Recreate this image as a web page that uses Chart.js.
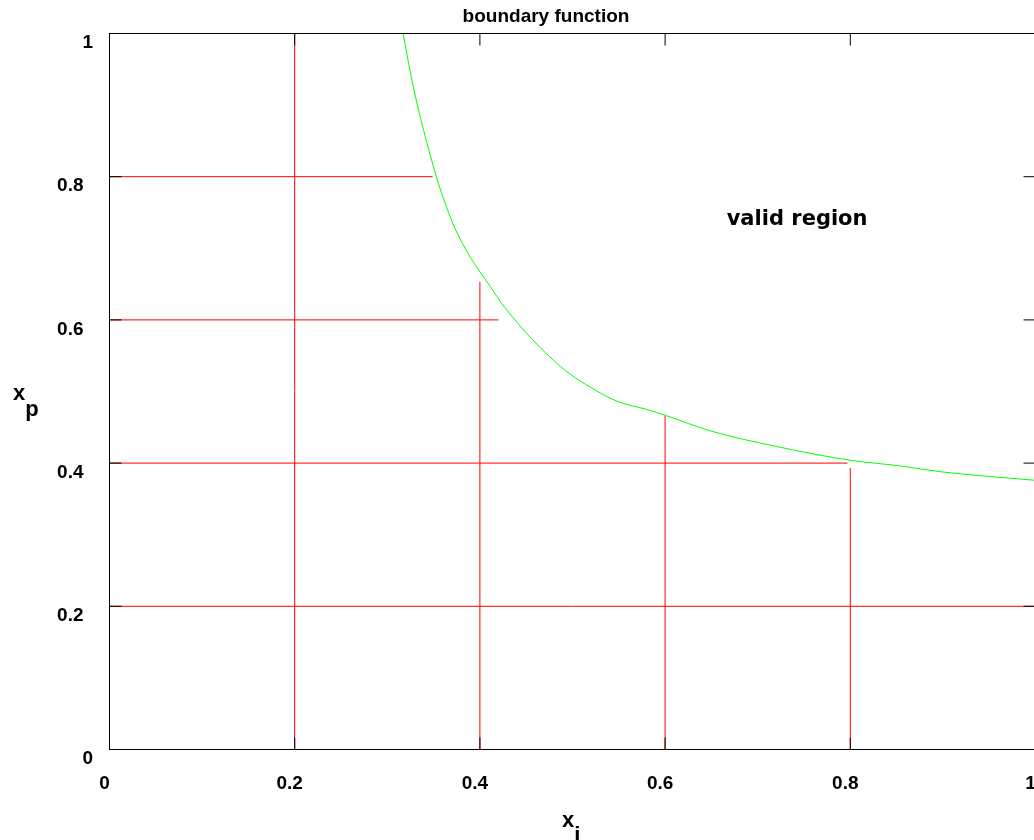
<!DOCTYPE html>
<html>
<head>
<meta charset="utf-8">
<script src="https://cdn.jsdelivr.net/npm/chart.js@4"></script>
<style>
html, body { margin: 0; padding: 0; overflow: hidden; background: #fff; }
</style>
</head>
<body>
<canvas id="chart" width="1040" height="840"></canvas>
<script>
// boundary curve
const boundaryX = [0.317, 0.328, 0.339, 0.353, 0.360, 0.373, 0.389, 0.411, 0.427, 0.487,
                   0.530, 0.551, 0.580, 0.602, 0.649, 0.721, 0.800, 0.854, 0.897, 0.944, 1.0];
const boundaryY = [1.0, 0.926, 0.866, 0.800, 0.772, 0.728, 0.689, 0.647, 0.617, 0.535,
                   0.498, 0.485, 0.475, 0.466, 0.445, 0.423, 0.404, 0.396, 0.388, 0.382, 0.376];

// red grid segments: vertical ones start at y=0, horizontal ones start at x=0
const vertX = [0, 0.2, 0.4, 0.6, 0.8];
const vertTop = [1, 1, 0.653, 0.466, 0.393];
const horizY = [0.2, 0.4, 0.6, 0.8];
const horizEnd = [1, 0.797, 0.42, 0.349];

const tickValues = [0, 0.2, 0.4, 0.6, 0.8, 1];
const regionLabel = { text: 'valid region', x: 0.6665, y: 0.733 };

const datasets = [];
vertX.forEach((v, i) => {
    datasets.push({
        data: [{x: v, y: 0}, {x: v, y: vertTop[i]}],
        borderColor: 'red', borderWidth: 1
    });
});
horizY.forEach((v, i) => {
    datasets.push({
        data: [{x: 0, y: v}, {x: horizEnd[i], y: v}],
        borderColor: 'red', borderWidth: 1
    });
});
datasets.push({
    data: boundaryX.map((v, i) => ({x: v, y: boundaryY[i]})),
    borderColor: '#00ff00', borderWidth: 1,
    cubicInterpolationMode: 'monotone'
});

function fmt(v) {
    if (v === 0 || v === 1) return String(v);
    return v.toFixed(1);
}

function noPad(s) {
    s.paddingLeft = 0; s.paddingRight = 0; s.paddingTop = 0; s.paddingBottom = 0;
}

const decor = {
    id: 'decor',
    afterDatasetsDraw(chart) {
        const ctx = chart.ctx;
        const a = chart.chartArea;
        const x = chart.scales.x, y = chart.scales.y;
        ctx.save();
        ctx.strokeStyle = '#000';
        ctx.lineWidth = 1;
        ctx.strokeRect(a.left, a.top, a.right - a.left, a.bottom - a.top);
        ctx.beginPath();
        tickValues.forEach(v => {
            const px = x.getPixelForValue(v), py = y.getPixelForValue(v);
            ctx.moveTo(px, a.bottom); ctx.lineTo(px, a.bottom - 12);
            ctx.moveTo(px, a.top); ctx.lineTo(px, a.top + 12);
            ctx.moveTo(a.left, py); ctx.lineTo(a.left + 12, py);
            ctx.moveTo(a.right, py); ctx.lineTo(a.right - 12, py);
        });
        ctx.stroke();

        ctx.fillStyle = '#000';
        ctx.textBaseline = 'alphabetic';
        ctx.font = 'bold 19px "Liberation Sans", Arial, sans-serif';
        ctx.textAlign = 'center';
        ctx.fillText('boundary function', 546, 21.7);

        ctx.textAlign = 'left';
        ctx.font = 'bold 21px "DejaVu Sans", sans-serif';
        ctx.fillText(regionLabel.text, x.getPixelForValue(regionLabel.x), y.getPixelForValue(regionLabel.y));

        // axis titles with subscripts
        ctx.font = 'bold 22px "Liberation Sans", Arial, sans-serif';
        let w = ctx.measureText('x').width;
        ctx.fillText('x', 562, 827);
        ctx.fillText('i', 562 + w, 842);
        ctx.fillText('x', 13, 400);
        ctx.fillText('p', 13 + w, 415.5);
        ctx.restore();
    }
};

new Chart(document.getElementById('chart'), {
    type: 'scatter',
    data: { datasets: datasets },
    options: {
        responsive: false,
        animation: false,
        showLine: true,
        elements: { point: { radius: 0 }, line: { tension: 0 } },
        layout: { padding: { top: 33.5, right: 4.5, left: 0, bottom: 0 } },
        plugins: { legend: { display: false }, tooltip: { enabled: false } },
        scales: {
            x: {
                type: 'linear', min: 0, max: 1,
                afterFit(s) { s.height = 90.5; noPad(s); },
                grid: { display: false, drawTicks: false },
                border: { display: false },
                ticks: {
                    stepSize: 0.2, autoSkip: false, padding: 23, labelOffset: -5,
                    color: '#000',
                    font: { family: '"Liberation Sans", Arial, sans-serif', size: 19, weight: 'bold' },
                    callback: v => fmt(v)
                }
            },
            y: {
                type: 'linear', min: 0, max: 1,
                afterFit(s) { s.width = 109.5; noPad(s); },
                grid: { display: false, drawTicks: false },
                border: { display: false },
                ticks: {
                    stepSize: 0.2, autoSkip: false, padding: 16.5, labelOffset: 9.5,
                    color: '#000',
                    font: { family: '"Liberation Sans", Arial, sans-serif', size: 19, weight: 'bold' },
                    callback: v => (v === 0 || v === 1) ? fmt(v) : fmt(v) + '\u2002'
                }
            }
        }
    },
    plugins: [decor]
});
</script>
</body>
</html>
